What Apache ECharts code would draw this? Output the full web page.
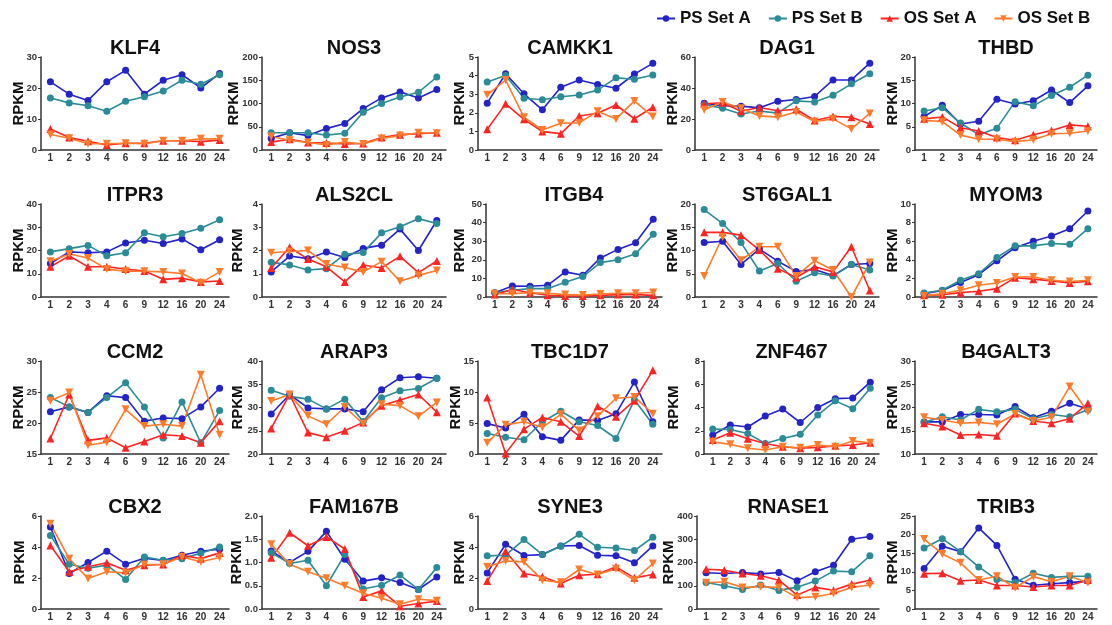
<!DOCTYPE html>
<html>
<head>
<meta charset="utf-8">
<script src="https://cdn.jsdelivr.net/npm/echarts@6/dist/echarts.min.js"></script>
<style>html,body{margin:0;padding:0;background:#fff}#c{width:1112px;height:625px}</style>
</head>
<body>
<div id="c"></div>
<script>
const timePoints = ['1','2','3','4','6','9','12','16','20','24'];
const seriesNames = ['PS Set A','PS Set B','OS Set A','OS Set B'];
const genes = ['KLF4','NOS3','CAMKK1','DAG1','THBD','ITPR3','ALS2CL','ITGB4','ST6GAL1','MYOM3','CCM2','ARAP3','TBC1D7','ZNF467','B4GALT3','CBX2','FAM167B','SYNE3','RNASE1','TRIB3'];
const yMin  = [0,0,0,0,0, 0,0,0,0,0, 15,20,0,0,10, 0,0,0,0,0];
const yMax  = [30,200,5,60,20, 40,4,50,20,10, 30,40,15,8,30, 6,2,6,400,25];
const yStep = [10,50,1,20,5, 10,1,10,5,2, 5,5,5,2,5, 2,0.5,2,100,5];
const yDecimals = [0,0,0,0,0, 0,0,0,0,0, 0,0,0,0,0, 0,1,0,0,0];

// each gene: [PS Set A, PS Set B, OS Set A, OS Set B]
const KLF4 = [
  [22,18,16,22,25.7,18,22.5,24.3,20,24.7],
  [16.8,15.2,14.3,12.5,15.7,17.2,19,22.5,21.2,24.3],
  [6.8,4.0,2.8,1.6,2.2,2.2,3.0,3.0,2.7,3.2],
  [5.0,3.8,2.0,2.0,2.2,2.0,3.0,3.0,3.6,3.6]];
const NOS3 = [
  [25,37,31,46,57,89,112,125,112,130],
  [37,37,37,32,36,81,100,114,124,157],
  [17,23,16,15,13,14,27,33,35,37],
  [29,21,16,11,17,13,25,31,37,36]];
const CAMKK1 = [
  [2.52,4.1,3.02,2.16,3.38,3.76,3.52,3.32,4.08,4.66],
  [3.65,4.0,2.78,2.7,2.86,2.96,3.22,3.88,3.8,4.03],
  [1.12,2.48,1.65,0.99,0.88,1.83,1.98,2.42,1.68,2.3],
  [2.97,3.76,1.76,1.08,1.44,1.46,2.08,1.67,2.64,1.8]];
const DAG1 = [
  [30.2,28.5,28.3,27.2,31.4,32.6,34.5,45.2,45.2,56],
  [29.2,27,23.2,25.2,23.8,31.7,31,35.4,42.7,49.2],
  [29.8,30.5,25,27.4,25.3,26.3,19,21.6,21.2,16.8],
  [25.9,30.9,27,22,21.2,24.5,18.4,20.1,13.6,23.6]];
const THBD = [
  [7.2,9.6,5.6,6.2,10.9,9.9,10.6,12.9,10.2,13.8],
  [8.4,9.1,5.8,3.3,4.7,10.4,9.5,11.7,13.5,16.1],
  [6.7,7.1,4.8,4.1,2.7,2.1,3.3,4.2,5.4,5.1],
  [6.4,6.1,3.2,2.3,2.3,1.8,2.2,3.5,3.6,4.1]];
const ITPR3 = [
  [14.4,19.4,19,19.4,23.2,24.4,23,25,20.3,24.6],
  [19.4,20.8,22.2,17.7,19,27.6,25.9,27.3,29.6,33.2],
  [13,17.7,13,13,12,11.2,7.6,8.1,6.5,6.9],
  [15.4,18.5,16.8,12,11.1,11.1,10.8,10.1,6.1,10.8]];
const ALS2CL = [
  [1.08,1.76,1.65,1.94,1.7,2.09,2.23,2.92,2.0,3.29],
  [1.5,1.38,1.16,1.22,1.84,1.91,2.76,3.02,3.37,3.16],
  [1.25,2.14,1.63,1.3,0.65,1.38,1.25,1.75,1.05,1.55],
  [1.9,1.96,2.0,1.42,1.27,1.08,1.52,0.68,0.93,1.14]];
const ITGB4 = [
  [2.3,5.9,5.8,6.3,13.5,11.7,21,25.6,29.2,41.8],
  [2.3,3.6,4.5,4.5,7.9,11,18.5,20,23.2,33.8],
  [1.3,4.0,2.3,0.9,0.5,0.5,0.9,1.3,1.3,0.9],
  [1.8,1.8,2.3,2.0,1.3,1.1,1.6,2.0,2.0,2.4]];
const ST6GAL1 = [
  [11.7,12,7,10.3,7.7,5.5,5.9,4.6,7,7.2],
  [18.8,15.8,11.7,5.6,7.2,3.4,5.2,4.5,7,5.8],
  [13.9,13.9,13.3,10.1,6.1,4.2,6.5,5.4,10.8,1.4],
  [4.5,12.9,7.9,10.8,10.8,4.5,7.8,5.8,0,7.4]];
const MYOM3 = [
  [0.36,0.7,1.55,2.4,3.9,5.3,6.0,6.55,7.35,9.25],
  [0.43,0.72,1.8,2.5,4.25,5.5,5.5,5.76,5.66,7.35],
  [0.18,0.25,0.47,0.61,0.9,2.08,1.92,1.73,1.5,1.69],
  [0.1,0.36,0.72,1.26,1.5,2.15,2.16,1.8,1.66,1.8]];
const CCM2 = [
  [21.8,22.6,21.7,24.4,24.1,20.3,20.8,20.7,22.6,25.6],
  [24.1,22.6,21.7,24.1,26.5,22.6,17.6,23.4,16.8,22],
  [17.5,24.6,17.2,17.6,16,17,18.1,17.9,16.8,20.3],
  [23.6,24.9,16.4,16.9,22.2,19.5,19.8,19.5,27.8,18.1]];
const ARAP3 = [
  [28.6,32.8,29.9,29.7,29.7,29.1,33.8,36.4,36.6,36.3],
  [33.7,32.4,31.8,29.7,31.8,27,32.1,33.6,34.1,36.3],
  [25.5,32.8,24.6,23.6,25,26.8,30.4,31.6,32.8,29],
  [31.4,32.8,28.2,26.4,30.1,26.5,30.7,30.4,28.1,31.1]];
const TBC1D7 = [
  [4.9,4.2,6.4,2.8,2.2,5.5,5.4,6.5,11.6,5.2],
  [3.3,2.7,2.3,5.2,6.9,5.2,4.6,2.5,8.7,4.8],
  [9.1,0.1,4.0,5.9,5.2,2.9,7.7,6.0,8.6,13.5],
  [1.8,4.7,5.2,4.3,6.4,3.8,6.1,9.0,9.2,6.5]];
const ZNF467 = [
  [1.63,2.49,2.32,3.27,3.87,2.71,4.0,4.76,4.82,6.18],
  [2.14,2.11,1.76,0.91,1.34,1.69,3.35,4.57,3.9,5.65],
  [1.2,1.83,1.32,0.91,0.63,0.49,0.57,0.7,0.77,0.97],
  [1.06,0.83,0.49,0.34,0.63,0.53,0.77,0.63,1.11,0.97]];
const B4GALT3 = [
  [16.9,16.9,18.5,18.5,18.4,20.2,17.8,19.2,20.9,19.7],
  [16.8,18,17.3,19.6,19.1,19.6,17.6,18.5,18,19.5],
  [16.6,15.9,14.1,14.2,13.9,18.7,17.1,16.6,17.6,20.9],
  [17.9,17.3,16.6,16.8,16.4,18.6,17.1,17.9,24.5,19.1]];
const CBX2 = [
  [5.29,2.29,3.0,3.73,2.89,3.28,3.13,3.47,3.73,3.85],
  [4.75,2.89,2.63,2.83,1.91,3.36,3.15,3.25,3.6,4.0],
  [4.1,2.4,2.72,2.98,2.5,2.83,2.87,3.47,3.25,3.62],
  [5.5,3.25,1.97,2.4,2.33,2.87,2.89,3.36,3.05,3.32]];
const FAM167B = [
  [1.25,1.0,1.24,1.67,1.07,0.6,0.67,0.57,0.42,0.69],
  [1.21,0.98,1.05,0.5,1.17,0.43,0.51,0.73,0.42,0.89],
  [1.1,1.64,1.36,1.55,1.29,0.26,0.39,0.06,0.12,0.17],
  [1.39,0.96,0.8,0.66,0.5,0.34,0.23,0.1,0.21,0.18]];
const SYNE3 = [
  [2.33,4.18,3.45,3.51,4.06,4.1,3.47,3.43,2.98,4.07],
  [3.43,3.47,4.48,3.51,4.05,4.82,3.98,3.94,3.77,4.63],
  [1.8,3.73,2.29,2.08,1.65,2.18,2.25,2.72,2.01,2.23],
  [2.72,3.1,3.04,1.86,1.72,2.55,2.23,2.6,1.86,2.93]];
const RNASE1 = [
  [156,153,157,151,157,121,160,188,300,312],
  [114,100,84,103,80,94,120,163,160,229],
  [171,167,153,143,124,60,93,81,107,124],
  [113,117,93,96,93,49,53,67,93,103]];
const TRIB3 = [
  [10.9,16.9,15.4,21.8,17.1,8.0,6.4,6.8,7.1,7.5],
  [16.4,18.9,15.4,11.3,7.9,7.1,9.6,8.5,8.8,8.8],
  [9.5,9.6,7.6,7.8,6.3,6.3,5.9,6.3,6.3,7.8],
  [18.8,14.8,12.4,7.8,8.8,5.7,8.7,7.3,8.8,7.1]];

const panelValues = [KLF4,NOS3,CAMKK1,DAG1,THBD,ITPR3,ALS2CL,ITGB4,ST6GAL1,MYOM3,CCM2,ARAP3,TBC1D7,ZNF467,B4GALT3,CBX2,FAM167B,SYNE3,RNASE1,TRIB3];

// layout (pixels)
const colLeft  = [41, 262, 478, 695, 915];
const colRight = [229, 446, 662, 879, 1097];
const nameCenterX = [20, 238, 460, 674, 895];
const rowTop   = [57, 204, 361, 516];
const plotH = 93;
const leftAdjust = {7: 8, 13: 9, 18: 2};
const TICK_FS = 9.5, NAME_FS = 15, LABEL_MARGIN = 4;

const colors = ['#2323c8', '#2b8c98', '#ff2424', '#ff7b2c'];
const symbols = ['circle', 'circle', 'triangle', 'triangle'];
const symbolRot = [0, 0, 0, 180];
const FONT = 'Liberation Sans, Arial, sans-serif';

function labelWidth(str) {
  let w = 0;
  for (const ch of str) w += (ch === '.' ? 0.278 : 0.556) * TICK_FS;
  return w;
}

const grids = [], xAxes = [], yAxes = [], series = [], titles = [];
genes.forEach((g, i) => {
  const r = Math.floor(i / 5), c = i % 5;
  const left = colLeft[c] + (leftAdjust[i] || 0);
  const width = colRight[c] - left;
  const dec = yDecimals[i];
  const extent = LABEL_MARGIN + labelWidth(yMax[i].toFixed(dec)) + 0.5;
  const nameGap = Math.max(left - nameCenterX[c] - NAME_FS / 2, extent);
  grids.push({left: left, top: rowTop[r], width: width, height: plotH, containLabel: false});
  titles.push({
    text: g, left: left + width / 2, top: rowTop[r] - 19, textAlign: 'center', padding: 0,
    textStyle: {fontSize: 20, fontWeight: 'bold', color: '#111', fontFamily: FONT}
  });
  xAxes.push({
    type: 'category', gridIndex: i, data: timePoints, boundaryGap: true,
    axisLine: {lineStyle: {color: '#333', width: 1.5}},
    axisTick: {show: false},
    axisLabel: {fontSize: 10, fontWeight: 'bold', color: '#333', margin: 3, interval: 0, fontFamily: FONT},
    splitLine: {show: false}
  });
  yAxes.push({
    type: 'value', gridIndex: i, min: yMin[i], max: yMax[i], interval: yStep[i],
    name: 'RPKM', nameLocation: 'middle', nameGap: nameGap, nameMoveOverlap: false,
    nameTextStyle: {fontSize: NAME_FS, fontWeight: 'bold', color: '#111', fontFamily: FONT},
    axisLine: {show: true, lineStyle: {color: '#333', width: 1.5}},
    axisTick: {show: true, length: 3, lineStyle: {color: '#333', width: 1}},
    axisLabel: {fontSize: TICK_FS, fontWeight: 'bold', color: '#333', margin: LABEL_MARGIN, fontFamily: FONT,
      showMinLabel: true, showMaxLabel: true,
      formatter: v => Number(v).toFixed(dec)},
    splitLine: {show: false}
  });
  panelValues[i].forEach((vals, s) => {
    series.push({
      name: seriesNames[s], type: 'line', xAxisIndex: i, yAxisIndex: i,
      data: vals, symbol: symbols[s], symbolRotate: symbolRot[s],
      symbolSize: s < 2 ? 7 : 8, showAllSymbol: true,
      lineStyle: {color: colors[s], width: 1.6},
      itemStyle: {color: colors[s]},
      emphasis: {disabled: true}, animation: false
    });
  });
});

const chart = echarts.init(document.getElementById('c'), null, {renderer: 'canvas'});
chart.setOption({
  animation: false,
  backgroundColor: '#fff',
  title: titles,
  legend: {
    data: seriesNames, left: 651, top: 5, itemWidth: 18, itemHeight: 8, itemGap: 17,
    textStyle: {fontSize: 17, fontWeight: 'bold', color: '#111', fontFamily: FONT}
  },
  grid: grids, xAxis: xAxes, yAxis: yAxes, series: series
});
</script>
</body>
</html>
